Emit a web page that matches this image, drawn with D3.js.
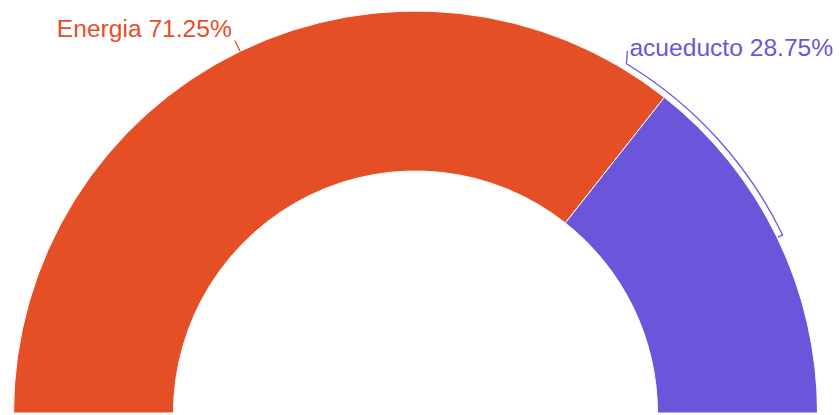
<!DOCTYPE html>
<html>
<head>
<meta charset="utf-8">
<script src="https://cdn.jsdelivr.net/npm/d3@7"></script>
<style>
  body { margin: 0; background: #fff; }
  svg { display: block; }
  .label { font-family: "Liberation Sans", Arial, sans-serif; font-size: 24.6px; }
</style>
</head>
<body>
<div id="chart"></div>
<script>
// data
const categories = ["Energia", "acueducto"];
const values = [71.25, 28.75];
const colors = ["#e44f26", "#6b55db"];

const width = 840, height = 415;
const cx = 415.5, cy = 413;
const outerR = 402, innerR = 242;

const svg = d3.select("#chart").append("svg")
  .attr("width", width)
  .attr("height", height);

const g = svg.append("g")
  .attr("transform", "translate(" + cx + "," + cy + ")");

const pie = d3.pie()
  .sort(null)
  .startAngle(-Math.PI / 2)
  .endAngle(Math.PI / 2)
  .value(d => d.value);

const data = categories.map((c, i) => ({key: c, value: values[i], color: colors[i]}));
const arcs = pie(data);

const arc = d3.arc()
  .innerRadius(innerR)
  .outerRadius(outerR);

g.selectAll(".slice")
  .data(arcs)
  .enter()
  .append("path")
  .attr("class", "slice")
  .attr("d", arc)
  .attr("fill", d => d.data.color)
  .attr("stroke", "#fff")
  .attr("stroke-width", 1);

const pt = (a, r) => [r * Math.sin(a), -r * Math.cos(a)];
const pct = d => d3.format(".2f")(d.value / d3.sum(values) * 100) + "%";

// Energia: short radial leader line
let e = arcs[0];
let em = (e.startAngle + e.endAngle) / 2;
let p0 = pt(em, outerR), p1 = pt(em, outerR + 12);
g.append("line")
  .attr("x1", p0[0]).attr("y1", p0[1])
  .attr("x2", p1[0]).attr("y2", p1[1])
  .attr("stroke", e.data.color)
  .attr("stroke-width", 1.3);
g.append("text")
  .attr("class", "label")
  .attr("x", p1[0] - 3)
  .attr("y", p1[1] - 4)
  .attr("text-anchor", "end")
  .attr("fill", e.data.color)
  .text(e.data.key + " " + pct(e.data));

// acueducto: bracket along the arc, then up to the label
let a = arcs[1];
let am = (a.startAngle + a.endAngle) / 2;
let a0 = am - 33 * Math.PI / 180;
let br = outerR + 6;
let s = pt(a0, br);
let tIn = pt(am, outerR + 1);
let bracket = d3.path();
bracket.moveTo(s[0] + 1, s[1] - 13);
bracket.lineTo(s[0], s[1]);
bracket.arc(0, 0, br, a0 - Math.PI / 2, am - Math.PI / 2);
bracket.lineTo(tIn[0], tIn[1]);
g.append("path")
  .attr("d", bracket.toString())
  .attr("fill", "none")
  .attr("stroke", a.data.color)
  .attr("stroke-width", 1.3);
g.append("text")
  .attr("class", "label")
  .attr("x", s[0] + 3)
  .attr("y", s[1] - 8)
  .attr("fill", a.data.color)
  .text(a.data.key + " " + pct(a.data));
</script>
</body>
</html>
